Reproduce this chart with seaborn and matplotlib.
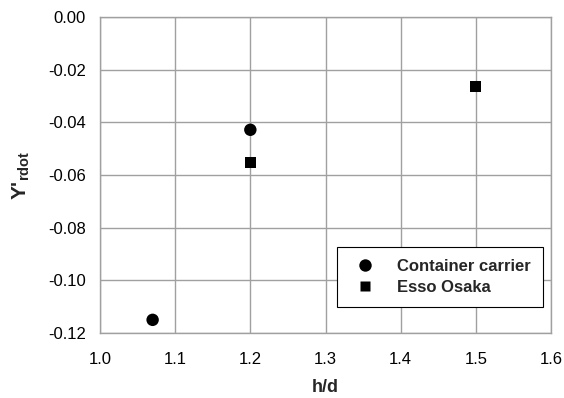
import matplotlib
matplotlib.use("Agg")
import matplotlib.pyplot as plt
from matplotlib.ticker import FormatStrFormatter, MultipleLocator
import seaborn as sns
import pandas as pd

# Measured yaw-rate derivative vs. depth ratio
ships = ["Container carrier", "Container carrier", "Esso Osaka", "Esso Osaka"]
h_over_d = [1.07, 1.20, 1.20, 1.50]
y_rdot = [-0.115, -0.0428, -0.0552, -0.0265]

df = pd.DataFrame({"ship": ships, "h/d": h_over_d, "Yrdot": y_rdot})

sns.set_theme(style="white")
plt.rcParams["font.family"] = ["Liberation Sans", "DejaVu Sans"]
plt.rcParams["axes.unicode_minus"] = False
plt.rcParams["mathtext.default"] = "regular"

fig, ax = plt.subplots(figsize=(5.64, 3.98), dpi=100)
fig.subplots_adjust(left=0.1773, right=0.977, top=0.957, bottom=0.1633)

sns.scatterplot(
    data=df, x="h/d", y="Yrdot", hue="ship", style="ship",
    palette={"Container carrier": "black", "Esso Osaka": "black"},
    markers={"Container carrier": "o", "Esso Osaka": "s"},
    size="ship", sizes={"Container carrier": 80, "Esso Osaka": 60},
    edgecolor="none", ax=ax, zorder=3,
)

ax.set_xlim(1.0, 1.6)
ax.set_ylim(-0.12, 0.0)
ax.xaxis.set_major_locator(MultipleLocator(0.1))
ax.yaxis.set_major_locator(MultipleLocator(0.02))
ax.xaxis.set_major_formatter(FormatStrFormatter("%.1f"))
ax.yaxis.set_major_formatter(FormatStrFormatter("%.2f"))

grid_col = "#a0a0a0"
ax.grid(True, color=grid_col, linewidth=1.0)
ax.set_axisbelow(True)
for sp in ax.spines.values():
    sp.set_color(grid_col)
    sp.set_linewidth(1.0)
ax.tick_params(axis="both", which="major", direction="out", length=5,
               width=1.0, color=grid_col, labelsize=12, labelcolor="black")
ax.tick_params(axis="x", pad=9)
ax.tick_params(axis="y", pad=5)

ax.set_xlabel("h/d", fontsize=13, fontweight="bold", labelpad=8)
ax.set_ylabel(r"Y'$_{rdot}$", fontsize=15, fontweight="bold", labelpad=12)

handles, labels = ax.get_legend_handles_labels()
leg = ax.legend(handles[:2] if len(handles) >= 2 else handles,
                ["Container carrier", "Esso Osaka"],
                loc="lower right", bbox_to_anchor=(0.982, 0.082),
                borderaxespad=0, fancybox=False, framealpha=1,
                edgecolor="black", prop={"weight": "bold", "size": 12},
                handletextpad=0.9, borderpad=0.72, labelspacing=0.35,
                handlelength=2.0)
leg.get_frame().set_linewidth(0.8)

fig.savefig("out.png", dpi=100)
